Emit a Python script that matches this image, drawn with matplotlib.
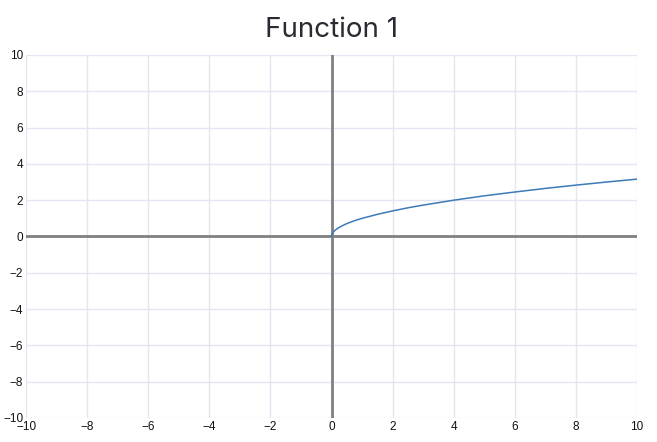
import matplotlib.pyplot as plt

# values
x_vals = [0, 0.02, 0.05, 0.1, 0.2, 0.35, 0.5, 0.75, 1, 1.5, 2, 2.5, 3, 4, 5, 6, 7, 8, 9, 10]
y_vals = [0, 0.14, 0.22, 0.32, 0.45, 0.59, 0.71, 0.87, 1.0, 1.22, 1.41, 1.58, 1.73,
          2.0, 2.24, 2.45, 2.65, 2.83, 3.0, 3.16]
ticks = [-10, -8, -6, -4, -2, 0, 2, 4, 6, 8, 10]
title = "Function 1"

fig = plt.figure(figsize=(6.57, 4.42), dpi=100)
ax = fig.add_axes([0.0396, 0.0543, 0.93, 0.8213])

ax.plot(x_vals, y_vals, color="#3d7ab8", linewidth=1.1, zorder=3)
ax.axhline(0, color="#808080", linewidth=2, zorder=2)
ax.axvline(0, color="#808080", linewidth=2, zorder=2)

ax.set_xlim(-10, 10)
ax.set_ylim(-10, 10)
ax.set_xticks(ticks)
ax.set_yticks(ticks)
ax.set_xticklabels([str(t).replace("-", "\u2212") for t in ticks])
ax.set_yticklabels([str(t).replace("-", "\u2212") for t in ticks])
ax.grid(True, color="#e6e6f2", linewidth=1)
ax.set_axisbelow(True)
for s in ax.spines.values():
    s.set_visible(False)
ax.tick_params(length=0, pad=2, labelsize=8.5, labelcolor="#111111")
for lbl in ax.get_xticklabels() + ax.get_yticklabels():
    lbl.set_fontfamily("Liberation Sans")

ax.set_title(title, fontsize=20, fontfamily="Inter", color="#2a2a33", pad=13)

fig.savefig("out.png", dpi=100)
